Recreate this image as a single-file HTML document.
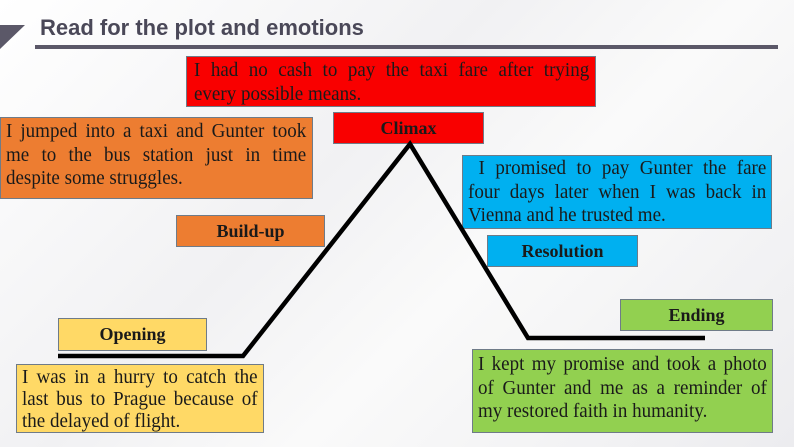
<!DOCTYPE html>
<html><head><style>
body{margin:0;width:794px;height:447px;overflow:hidden;position:relative;background:linear-gradient(135deg,#ffffff 0%,#f1f1f3 40%,#fafafa 60%,#ececef 100%);font-family:"Liberation Serif",serif;}
.b{position:absolute;box-sizing:border-box;border:1px solid #6f7b88;}
.t{position:absolute;left:5px;top:2px;transform:scaleX(0.95);transform-origin:0 0;font-size:20px;line-height:23.5px;text-align:justify;color:#1a1a1a;}
.l{font-weight:bold;text-align:center;font-size:18px;color:#1a1a1a;}
</style></head><body>
<div style="position:absolute;left:0;top:25px;width:0;height:0;border-top:24px solid #5b5868;border-right:25px solid transparent;"></div>
<div style="position:absolute;left:40px;top:15px;font-family:'Liberation Sans',sans-serif;font-weight:bold;font-size:22px;color:#4a4858;">Read for the plot and emotions</div>
<div style="position:absolute;left:35px;top:45px;width:743px;height:4px;background:#5b5868;"></div>

<div class="b" style="left:186px;top:56px;width:410px;height:51px;background:#f90000;"><div class="t" style="width:416px;left:7px">I had no cash to pay the taxi fare after trying every&nbsp;possible means.</div></div>
<div class="b l" style="left:333px;top:112px;width:151px;height:32px;background:#f90000;line-height:30px;">Climax</div>
<div class="b" style="left:0;top:117px;width:313px;height:82px;background:#ed7d31;"><div class="t" style="width:316px">I jumped into a taxi and Gunter took me to the bus station just in time despite some struggles.</div></div>
<div class="b l" style="left:176px;top:215px;width:149px;height:32px;background:#ed7d31;line-height:30px;">Build-up</div>
<div class="b" style="left:462px;top:155px;width:310px;height:74px;background:#00b0f0;"><div class="t" style="width:314px;top:1px">&nbsp;I promised to pay Gunter the fare four&nbsp;days later when I was back in Vienna and he trusted me.</div></div>
<div class="b l" style="left:487px;top:235px;width:151px;height:32px;background:#00b0f0;line-height:30px;">Resolution</div>
<div class="b l" style="left:620px;top:299px;width:153px;height:32px;background:#92d050;line-height:30px;">Ending</div>
<div class="b l" style="left:58px;top:318px;width:149px;height:33px;background:#ffd966;line-height:31px;">Opening</div>
<div class="b" style="left:472px;top:349px;width:301px;height:84px;background:#92d050;"><div class="t" style="width:304px;top:3px">I kept my promise and took a photo of Gunter and me as a reminder of my restored faith in humanity.</div></div>
<div class="b" style="left:16px;top:364px;width:248px;height:69px;background:#ffd966;"><div class="t" style="width:248px;top:1px;line-height:22px">I was in a hurry to catch the last bus to Prague because of the delayed of flight.</div></div>

<svg style="position:absolute;left:0;top:0" width="794" height="447">
<polyline points="58,356 243,356 410,144 528,338 705,338" fill="none" stroke="#000" stroke-width="4.5" stroke-linejoin="miter"/>
</svg>
</body></html>
